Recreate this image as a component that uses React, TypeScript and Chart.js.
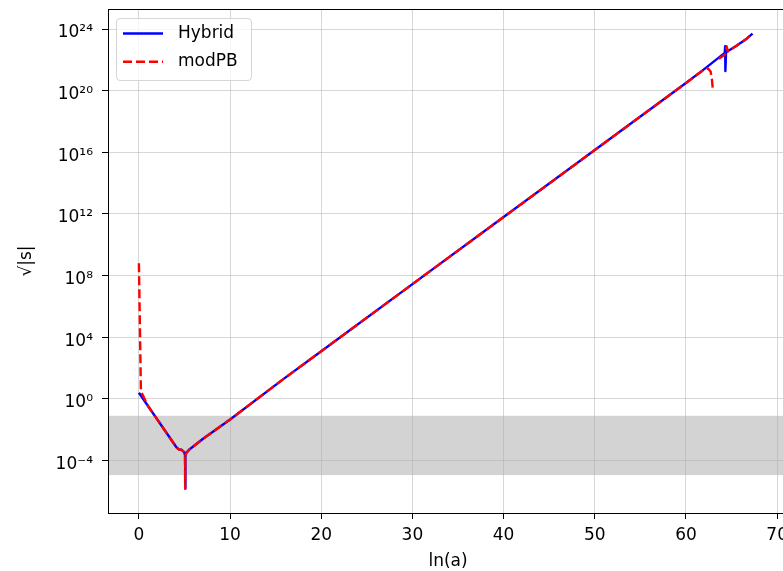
import React, { useEffect, useRef } from "react";
import { Chart, registerables } from "chart.js";

Chart.register(...registerables);

// ---- data (y stored as log10 of sqrt|s|) ----
const hybridLnA = [0, 1, 2, 3, 4, 4.16, 4.41, 4.68, 4.96, 5.06, 5.07, 5.08, 5.15, 5.5, 7, 10, 15.8, 20, 30, 40, 50, 60, 62, 64.25, 64.3, 64.32, 64.4, 65.5, 66.5, 67.3];
const hybridLog10 = [0.4, -0.46, -1.32, -2.18, -3.04, -3.17, -3.28, -3.3, -3.45, -3.67, -5.81, -3.67, -3.55, -3.3, -2.6, -1.33, 1.27, 3.1, 7.45, 11.8, 16.15, 20.5, 21.4, 22.45, 22.89, 21.27, 22.5, 22.9, 23.3, 23.7];

const modpbLnA = [0, 0.22, 1, 2, 3, 4, 4.16, 4.41, 4.68, 4.96, 5.06, 5.07, 5.08, 5.15, 5.5, 7, 10, 15.8, 20, 30, 40, 50, 60, 61.9, 62.4, 62.7, 62.85, 62.95, 63.2, 63.6, 64.3, 64.45, 64.6, 65.5, 66.5, 67.3];
const modpbLog10: (number | null)[] = [8.8, 0.5, -0.46, -1.32, -2.18, -3.04, -3.17, -3.28, -3.3, -3.45, -3.67, -5.81, -3.67, -3.55, -3.3, -2.6, -1.33, 1.27, 3.1, 7.45, 11.8, 16.15, 20.5, 21.33, 21.45, 21.25, 20.7, 20.05, null, 22.07, 22.35, 22.88, 22.55, 22.9, 23.3, 23.7];

const xTickValues = [0, 10, 20, 30, 40, 50, 60, 70];
const yTickExponents = [-4, 0, 4, 8, 12, 16, 20, 24];
const bandLog10 = [-4.94, -1.095];
const seriesLabels = ["Hybrid", "modPB"];
const seriesColors = ["#0000ff", "#ff0000"];
const xLabel = "ln(a)";
const yLabel = "√|s|";

const FONT = "DejaVu Sans";
const SUP: Record<string, string> = {
  "0": "⁰", "1": "¹", "2": "²", "3": "³", "4": "⁴",
  "5": "⁵", "6": "⁶", "7": "⁷", "8": "⁸", "9": "⁹", "-": "⁻",
};
const supLabel = (e: number) => "10" + String(e).split("").map((c) => SUP[c] ?? c).join("");

const toPoints = (xs: number[], ls: (number | null)[]) =>
  xs.map((x, i) => ({ x, y: ls[i] === null ? null : Math.pow(10, ls[i] as number) }));

const bandPlugin = {
  id: "band",
  beforeDraw(chart: any) {
    const { ctx, chartArea } = chart;
    const ys = chart.scales.y;
    const top = ys.getPixelForValue(Math.pow(10, bandLog10[1]));
    const bot = ys.getPixelForValue(Math.pow(10, bandLog10[0]));
    ctx.save();
    ctx.fillStyle = "#d3d3d3";
    ctx.fillRect(chartArea.left, top, chartArea.right - chartArea.left, bot - top);
    ctx.restore();
  },
};

const framePlugin = {
  id: "frameLegend",
  afterDraw(chart: any) {
    const { ctx, chartArea } = chart;
    ctx.save();
    ctx.strokeStyle = "#000";
    ctx.lineWidth = 1;
    const l = Math.round(chartArea.left) + 0.5;
    const t = Math.round(chartArea.top) + 0.5;
    const r = Math.round(chartArea.right) + 0.5;
    const b = Math.round(chartArea.bottom) + 0.5;
    ctx.strokeRect(l, t, r - l, b - t);

    // legend (upper left)
    const bx = chartArea.left + 8.5;
    const by = chartArea.top + 9.5;
    const bw = 135;
    const bh = 62;
    const rad = 3.5;
    ctx.beginPath();
    ctx.moveTo(bx + rad, by);
    ctx.lineTo(bx + bw - rad, by);
    ctx.arcTo(bx + bw, by, bx + bw, by + rad, rad);
    ctx.lineTo(bx + bw, by + bh - rad);
    ctx.arcTo(bx + bw, by + bh, bx + bw - rad, by + bh, rad);
    ctx.lineTo(bx + rad, by + bh);
    ctx.arcTo(bx, by + bh, bx, by + bh - rad, rad);
    ctx.lineTo(bx, by + rad);
    ctx.arcTo(bx, by, bx + rad, by, rad);
    ctx.closePath();
    ctx.fillStyle = "rgba(255,255,255,0.8)";
    ctx.fill();
    ctx.strokeStyle = "rgba(204,204,204,0.8)";
    ctx.stroke();

    const rows = [by + 15, by + 43.3];
    seriesLabels.forEach((lab, i) => {
      const y = rows[i];
      ctx.beginPath();
      ctx.strokeStyle = seriesColors[i];
      ctx.lineWidth = 2.4;
      ctx.setLineDash(i === 1 ? [9, 4] : []);
      ctx.moveTo(bx + 6.5, y);
      ctx.lineTo(bx + 46.5, y);
      ctx.stroke();
      ctx.setLineDash([]);
      ctx.fillStyle = "#000";
      ctx.font = `17px "${FONT}"`;
      ctx.textBaseline = "middle";
      ctx.textAlign = "left";
      ctx.fillText(lab, bx + 61.5, y);
    });
    ctx.restore();
  },
};

export default function App() {
  const ref = useRef<HTMLCanvasElement>(null);
  useEffect(() => {
    const canvas = ref.current!;
    const chart = new Chart(canvas, {
      type: "line",
      data: {
        datasets: [
          {
            label: seriesLabels[0],
            data: toPoints(hybridLnA, hybridLog10) as any,
            borderColor: seriesColors[0],
            backgroundColor: seriesColors[0],
            borderWidth: 2.4,
            pointRadius: 0,
            tension: 0,
            fill: false,
            borderJoinStyle: "round",
            order: 2,
          },
          {
            label: seriesLabels[1],
            data: toPoints(modpbLnA, modpbLog10) as any,
            borderColor: seriesColors[1],
            backgroundColor: seriesColors[1],
            borderWidth: 2.4,
            borderDash: [9, 4],
            pointRadius: 0,
            tension: 0,
            fill: false,
            spanGaps: false,
            borderJoinStyle: "round",
            order: 1,
          },
        ],
      },
      options: {
        responsive: false,
        devicePixelRatio: 1,
        animation: false,
        layout: { padding: { left: 0, top: 9, right: 12, bottom: 0 } },
        plugins: { legend: { display: false }, tooltip: { enabled: false } },
        scales: {
          x: {
            type: "linear",
            min: -3.39,
            max: 71.19,
            afterBuildTicks: (s: any) => {
              s.ticks = xTickValues.map((v) => ({ value: v }));
            },
            afterFit: (s: any) => {
              s.height = 58;
              s.paddingLeft = 0;
              s.paddingRight = 0;
            },
            ticks: {
              color: "#000",
              font: { family: FONT, size: 17 },
              padding: 6,
              maxRotation: 0,
              autoSkip: false,
              callback: (v: any) => String(v),
            },
            grid: {
              color: "rgba(176,176,176,0.5)",
              lineWidth: 1,
              tickLength: 6,
              tickColor: "#000",
              tickWidth: 1,
            },
            border: { display: false },
            title: {
              display: true,
              text: xLabel,
              color: "#000",
              font: { family: FONT, size: 17, lineHeight: 1 },
              padding: { top: 0, bottom: 0.5 },
            },
          },
          y: {
            type: "logarithmic",
            min: Math.pow(10, -7.4),
            max: Math.pow(10, 25.3),
            afterBuildTicks: (s: any) => {
              s.ticks = yTickExponents.map((e) => ({ value: Math.pow(10, e) }));
            },
            afterFit: (s: any) => {
              s.width = 108;
              s.paddingTop = 0;
              s.paddingBottom = 0;
            },
            ticks: {
              color: "#000",
              font: { family: FONT, size: 17 },
              padding: 9,
              labelOffset: 4,
              autoSkip: false,
              callback: (v: any) => supLabel(Math.round(Math.log10(v))),
            },
            grid: {
              color: "rgba(176,176,176,0.5)",
              lineWidth: 1,
              tickLength: 6,
              tickColor: "#000",
              tickWidth: 1,
            },
            border: { display: false },
            title: {
              display: true,
              text: yLabel,
              color: "#000",
              font: { family: FONT, size: 17, lineHeight: 1 },
              padding: { top: 18.5, bottom: 0 },
            },
          },
        },
      } as any,
      plugins: [bandPlugin, framePlugin],
    });
    return () => chart.destroy();
  }, []);

  return (
    <div
      style={{
        position: "fixed",
        left: 0,
        top: 0,
        width: 783,
        height: 571,
        overflow: "hidden",
        background: "#fff",
      }}
    >
      <canvas ref={ref} width={800} height={571} style={{ display: "block", width: 800, height: 571 }} />
    </div>
  );
}
